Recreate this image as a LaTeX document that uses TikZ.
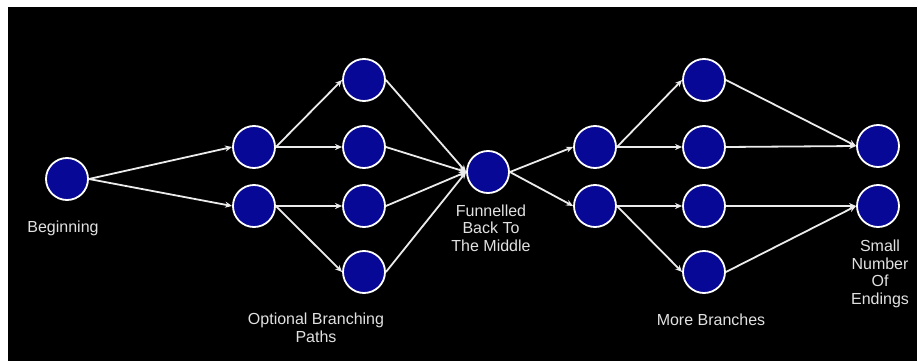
\documentclass[tikz,border=0pt]{standalone}
\usepackage{fontspec}
\setmainfont{Liberation Sans}
\usetikzlibrary{arrows.meta}
\definecolor{nodeblue}{RGB}{8,8,150}
\definecolor{labelgray}{RGB}{225,225,225}
\begin{document}
\begin{tikzpicture}[x=1pt,y=-1pt,
  stnode/.style={circle,draw=white,line width=1.8pt,fill=nodeblue,minimum size=42pt,inner sep=0pt},
  link/.style={draw=white!92!black,line width=1.8pt,-{Stealth[length=7pt,width=6pt]}},
  lbl/.style={text=labelgray,font=\fontsize{16}{17.5}\selectfont,align=center,anchor=base,inner sep=0pt}]
\fill[white] (0,0) rectangle (918,361);
\fill[black] (8,7) rectangle (917,361);
\useasboundingbox (0,0) rectangle (918,361);
% nodes
\node[stnode] (b) at (67,179) {};
\node[stnode] (p1) at (254,147) {};
\node[stnode] (p2) at (254,206) {};
\node[stnode] (q1) at (364,80) {};
\node[stnode] (q2) at (364,147) {};
\node[stnode] (q3) at (364,206) {};
\node[stnode] (q4) at (364,272) {};
\node[stnode] (m) at (488,172) {};
\node[stnode] (r1) at (595,147) {};
\node[stnode] (r2) at (595,206) {};
\node[stnode] (s1) at (704,80) {};
\node[stnode] (s2) at (704,147) {};
\node[stnode] (s3) at (704,206) {};
\node[stnode] (s4) at (704,272) {};
\node[stnode] (e1) at (878,146) {};
\node[stnode] (e2) at (878,206) {};
% connectors
\draw[link] (b.east) -- (p1.west);
\draw[link] (b.east) -- (p2.west);
\draw[link] (p1.east) -- (q1.west);
\draw[link] (p1.east) -- (q2.west);
\draw[link] (p2.east) -- (q3.west);
\draw[link] (p2.east) -- (q4.west);
\draw[link] (q1.east) -- (m.west);
\draw[link] (q2.east) -- (m.west);
\draw[link] (q3.east) -- (m.west);
\draw[link] (q4.east) -- (m.west);
\draw[link] (m.east) -- (r1.west);
\draw[link] (m.east) -- (r2.west);
\draw[link] (r1.east) -- (s1.west);
\draw[link] (r1.east) -- (s2.west);
\draw[link] (r2.east) -- (s3.west);
\draw[link] (r2.east) -- (s4.west);
\draw[link] (s1.east) -- (e1.west);
\draw[link] (s2.east) -- (e1.west);
\draw[link] (s3.east) -- (e2.west);
\draw[link] (s4.east) -- (e2.west);
% labels (anchor = baseline of the last line)
\node[lbl] (lb) at (63,232) {Beginning};
\node[lbl] (lp) at (316,342) {Optional Branching\\Paths};
\node[lbl] (lm) at (491,251) {Funnelled\\Back To\\The Middle};
\node[lbl] (lr) at (711,325) {More Branches};
\node[lbl] (le) at (880,304) {Small\\Number\\Of\\Endings};
\end{tikzpicture}
\end{document}
